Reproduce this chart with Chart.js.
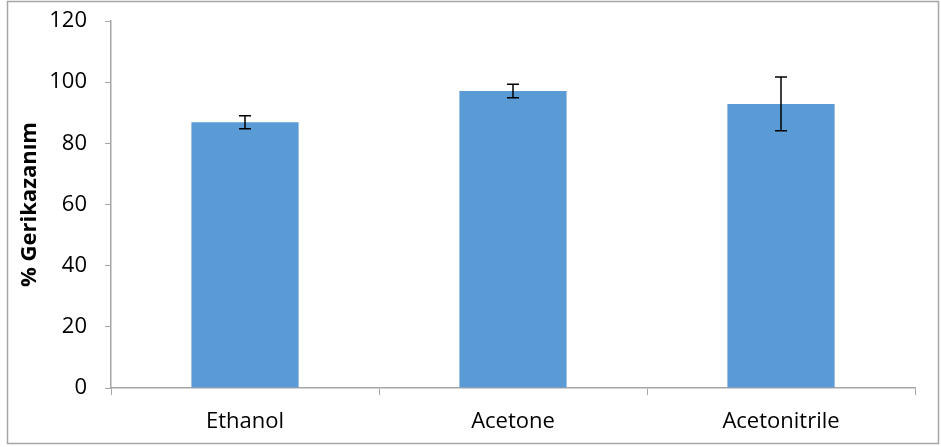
<!DOCTYPE html>
<html lang="tr">
<head>
    <meta charset="UTF-8">
    <title>Gerikazanım</title>
    <script src="https://cdn.jsdelivr.net/npm/chart.js"></script>
    <style>
        html, body { margin: 0; padding: 0; background: #fff; }
        .kutu { position: relative; width: 941px; height: 447px; }
    </style>
</head>
<body>
    <div class="kutu">
        <canvas id="grafik"></canvas>
    </div>

<script>
    // veriler
    const kategoriler = ['Ethanol', 'Acetone', 'Acetonitrile'];
    const gerikazanim = [86.9, 97.1, 92.9];
    const hatalar = [2.1, 2.2, 8.8];
    const yEtiketleri = [0, 20, 40, 60, 80, 100, 120];

    const yaziTipi = "'Open Sans', 'Liberation Sans', sans-serif";

    // dış çerçeve
    const cerceve = {
        id: 'cerceve',
        beforeDraw(chart) {
            const ctx = chart.ctx;
            ctx.save();
            ctx.fillStyle = '#ffffff';
            ctx.fillRect(0, 0, chart.width, chart.height);
            ctx.strokeStyle = '#a6a6a6';
            ctx.lineWidth = 1.5;
            ctx.strokeRect(7.5, 1.5, 931, 442);
            ctx.restore();
        }
    };

    // hata çubukları
    const hataCubuklari = {
        id: 'hataCubuklari',
        afterDatasetsDraw(chart) {
            const ctx = chart.ctx;
            const y = chart.scales.y;
            const meta = chart.getDatasetMeta(0);
            ctx.save();
            ctx.strokeStyle = '#000000';
            ctx.lineWidth = 1.5;
            meta.data.forEach(function (bar, i) {
                const ust = y.getPixelForValue(gerikazanim[i] + hatalar[i]);
                const alt = y.getPixelForValue(gerikazanim[i] - hatalar[i]);
                ctx.beginPath();
                ctx.moveTo(bar.x, ust);
                ctx.lineTo(bar.x, alt);
                ctx.moveTo(bar.x - 6, ust);
                ctx.lineTo(bar.x + 6, ust);
                ctx.moveTo(bar.x - 6, alt);
                ctx.lineTo(bar.x + 6, alt);
                ctx.stroke();
            });
            ctx.restore();
        }
    };

    new Chart(document.getElementById('grafik'), {
        type: 'bar',
        data: {
            labels: kategoriler,
            datasets: [{
                data: gerikazanim,
                backgroundColor: '#5b9bd5',
                borderWidth: 0,
                categoryPercentage: 0.8,
                barPercentage: 0.5
            }]
        },
        options: {
            responsive: true,
            maintainAspectRatio: false,
            animation: false,
            layout: { padding: { left: 0, right: 26, top: 21, bottom: 0 } },
            plugins: {
                legend: { display: false },
                tooltip: { enabled: false }
            },
            scales: {
                x: {
                    afterFit: function (s) {
                        s.height = 59;
                        s.paddingLeft = 0;
                        s.paddingRight = 0;
                    },
                    grid: {
                        offset: true,
                        drawOnChartArea: false,
                        drawTicks: true,
                        tickLength: 7,
                        color: '#a6a6a6'
                    },
                    border: { color: '#a6a6a6', width: 1.5 },
                    ticks: {
                        color: '#000000',
                        padding: 14,
                        font: { family: yaziTipi, size: 22 }
                    }
                },
                y: {
                    min: 0,
                    max: 120,
                    afterFit: function (s) {
                        s.width = 111;
                        s.paddingTop = 0;
                        s.paddingBottom = 0;
                    },
                    afterBuildTicks: function (s) {
                        s.ticks = yEtiketleri.map(function (v) { return { value: v }; });
                    },
                    grid: {
                        drawOnChartArea: false,
                        drawTicks: true,
                        tickLength: 6,
                        color: '#a6a6a6'
                    },
                    border: { color: '#a6a6a6', width: 1.5 },
                    ticks: {
                        color: '#000000',
                        padding: 18,
                        font: { family: yaziTipi, size: 22 }
                    },
                    title: {
                        display: true,
                        text: '% Gerikazanım',
                        color: '#000000',
                        padding: { top: 17, bottom: 0 },
                        font: { family: yaziTipi, size: 22, weight: 'bold' }
                    }
                }
            }
        },
        plugins: [cerceve, hataCubuklari]
    });
</script>
</body>
</html>
